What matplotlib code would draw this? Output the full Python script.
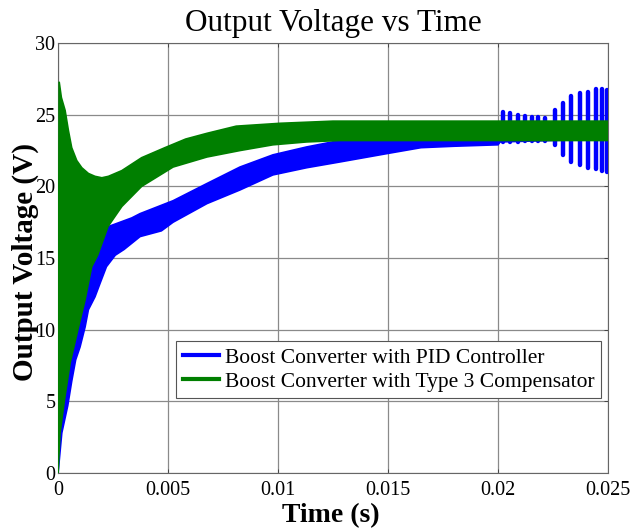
import matplotlib
matplotlib.use("Agg")
import matplotlib.pyplot as plt
from matplotlib.lines import Line2D

# envelope of the PID response (upper / lower edge of the ripple band)
pid_t_hi = [0, 0.0001, 0.0005, 0.001, 0.0016, 0.00229, 0.00335, 0.00373, 0.00523,
            0.00677, 0.00827, 0.00977, 0.0113, 0.0128, 0.0155, 0.02, 0.025]
pid_hi = [0, 7, 11, 14, 16, 17.2, 17.8, 18.1, 19.0,
          20.2, 21.35, 22.2, 22.75, 23.2, 23.4, 23.6, 24.0]
pid_t_lo = [0, 0.00017, 0.00044, 0.00062, 0.0008, 0.001, 0.00123, 0.00138, 0.00168,
            0.0019, 0.0022, 0.0026, 0.003, 0.00373, 0.0047, 0.00523, 0.00677,
            0.00827, 0.00977, 0.0113, 0.0128, 0.015, 0.0165, 0.018, 0.02, 0.0201,
            0.0224, 0.025]
pid_lo = [0, 2.8, 4.7, 6.4, 7.9, 8.8, 10.2, 11.4, 12.3,
          13.2, 14.4, 15.2, 15.6, 16.5, 16.9, 17.5, 18.8,
          19.75, 20.8, 21.3, 21.7, 22.3, 22.7, 22.8, 22.9, 23.1,
          23.2, 23.3]

# separate ripple bursts of the PID response near the end
burst_t = [0.02023, 0.02055, 0.02091, 0.02123, 0.02155, 0.02182, 0.02214,
           0.02259, 0.02295, 0.02334, 0.02373, 0.02409, 0.02445, 0.02473, 0.02495]
burst_hi = [25.2, 25.1, 25.0, 24.9, 24.85, 24.85, 24.8,
            25.3, 25.8, 26.3, 26.5, 26.6, 26.8, 26.8, 26.7]
burst_lo = [23.1, 23.1, 23.1, 23.2, 23.2, 23.2, 23.2,
            22.9, 22.2, 21.7, 21.5, 21.3, 21.2, 21.1, 21.0]

# envelope of the type 3 compensator response
t3_t_hi = [0, 0.00005, 0.00015, 0.00032, 0.00047, 0.00062, 0.00085, 0.00108, 0.00138,
           0.00168, 0.00199, 0.00229, 0.0029, 0.0038, 0.00486, 0.0058, 0.00677,
           0.0081, 0.0101, 0.0125, 0.025]
t3_hi = [0, 27.3, 26.2, 25.3, 23.9, 22.7, 21.8, 21.3, 20.9,
         20.7, 20.6, 20.7, 21.1, 22.0, 22.7, 23.3, 23.7,
         24.2, 24.4, 24.55, 24.55]
t3_t_lo = [0, 0.00009, 0.00029, 0.00055, 0.0009, 0.00123, 0.00153, 0.0018, 0.00227,
           0.0029, 0.0038, 0.00523, 0.00677, 0.00827, 0.00977, 0.0113, 0.0128, 0.025]
t3_lo = [0, 2.8, 5.1, 7.7, 10.0, 12.1, 14.4, 15.2, 17.2,
         18.6, 20.0, 21.35, 22.05, 22.5, 22.9, 23.1, 23.2, 23.2]

labels = ["Boost Converter with PID Controller",
          "Boost Converter with Type 3 Compensator"]
xticks = [0, 0.005, 0.01, 0.015, 0.02, 0.025]
xticklabels = ["0", "0.005", "0.01", "0.015", "0.02", "0.025"]
yticks = [0, 5, 10, 15, 20, 25, 30]

BLUE = "#0000ff"
GREEN = "#007f00"

plt.rcParams["font.family"] = ["Liberation Serif", "DejaVu Serif"]

fig = plt.figure(figsize=(6.31, 5.31), dpi=100)
ax = fig.add_axes([0.092, 0.109, 0.8715, 0.810])


def band(t_hi, hi, t_lo, lo, color):
    xs = list(t_hi) + list(t_lo)[::-1]
    ys = list(hi) + list(lo)[::-1]
    ax.fill(xs, ys, color=color, lw=1.2, ec=color, zorder=3)


band(pid_t_hi, pid_hi, pid_t_lo, pid_lo, BLUE)
spikes = ax.vlines(burst_t, burst_lo, burst_hi, color=BLUE, lw=3.2, zorder=3)
spikes.set_capstyle("round")
band(t3_t_hi, t3_hi, t3_t_lo, t3_lo, GREEN)

ax.set_xlim(0, 0.025)
ax.set_ylim(0, 30)
ax.set_xticks(xticks)
ax.set_xticklabels(xticklabels)
ax.set_yticks(yticks)
ax.tick_params(direction="in", top=True, right=True, length=3, width=0.7,
               color="#444444", labelsize=14.5)
ax.tick_params(axis="x", pad=6)
ax.tick_params(axis="y", pad=2)
ax.grid(True, color="#8a8a8a", lw=0.9)
ax.set_axisbelow(True)
for s in ax.spines.values():
    s.set_color("#666666")
    s.set_linewidth(0.8)

ax.set_title("Output Voltage vs Time", fontsize=22.5, pad=9)
ax.set_xlabel("Time (s)", fontsize=20, fontweight="bold")
ax.set_ylabel("Output Voltage (V)", fontsize=21, fontweight="bold")
ax.xaxis.set_label_coords(0.496, -0.07)
ax.yaxis.set_label_coords(-0.035, 0.492)

handles = [Line2D([], [], color=BLUE, lw=3), Line2D([], [], color=GREEN, lw=3)]
leg = ax.legend(handles, labels, loc="upper right", bbox_to_anchor=(0.987, 0.307),
                fontsize=15.5, frameon=True, fancybox=False, framealpha=1,
                borderpad=0.3, handlelength=1.7, handletextpad=0.25,
                labelspacing=0.2, borderaxespad=0)
leg.get_frame().set_edgecolor("#555555")
leg.get_frame().set_linewidth(0.8)
leg.set_zorder(5)

fig.savefig("out.png", dpi=100)
